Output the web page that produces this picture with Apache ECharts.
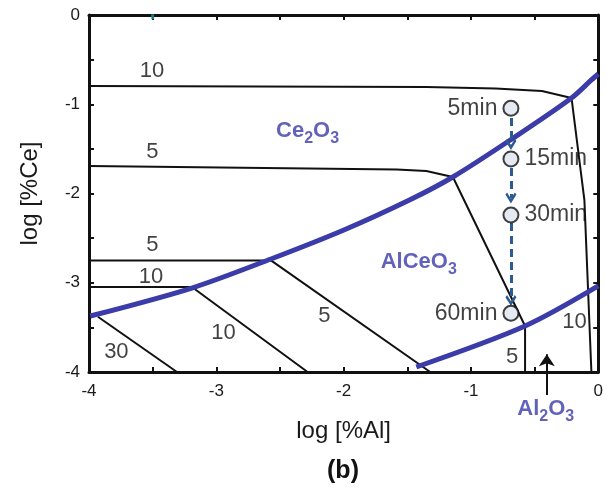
<!DOCTYPE html>
<html><head><meta charset="utf-8">
<script src="https://cdn.jsdelivr.net/npm/echarts@6/dist/echarts.min.js"></script>
<style>html,body{margin:0;padding:0;background:#fff}#c{width:606px;height:489px}</style>
</head><body><div id="c"></div>
<script>
// Phase boundaries (log[%Al], log[%Ce])
const blueBoundaryUpper = [[-3.99,-3.373],[-3.192,-3.059],[-2.571,-2.734],[-1.998,-2.409],[-1.483,-2.073],[-1.142,-1.815],[-0.691,-1.401],[-0.210,-0.930],[-0.054,-0.728],[0,-0.661]];
const blueBoundaryLower = [[-1.429,-3.944],[-0.575,-3.485],[0,-3.036]];
// Iso-activity lines
const iso10Upper = [[-4,-0.796],[-1.351,-0.807],[-0.808,-0.824],[-0.443,-0.852],[-0.210,-0.930],[-0.109,-2.073],[-0.054,-4]];
const iso5Upper = [[-4,-1.692],[-1.584,-1.731],[-1.351,-1.748],[-1.142,-1.815],[-0.575,-3.485],[-0.575,-4]];
const iso5Lower = [[-4,-2.75],[-2.571,-2.75],[-1.320,-4]];
const iso10Lower = [[-4,-3.048],[-3.192,-3.048],[-2.283,-4]];
const iso30 = [[-3.930,-3.381],[-3.309,-4]];
// Iso labels
const isoLabels = [[-3.505,-0.624,'10'],[-3.503,-1.532,'5'],[-3.503,-2.577,'5'],[-3.513,-2.932,'10'],[-2.944,-3.563,'10'],[-3.785,-3.773,'30'],[-2.151,-3.373,'5'],[-0.186,-3.436,'10'],[-0.676,-3.829,'5']];
// Phase labels
const phaseLabels = [[-2.283,-1.322,'{a|Ce}{s|2}{a|O}{s|3}'],[-1.410,-2.790,'{a|AlCeO}{s|3}'],[-0.412,-4.437,'{a|Al}{s|2}{a|O}{s|3}']];
// Samples
const sampleX = -0.686;
const sampleTimes = ['5min','15min','30min','60min'];
const sampleY = [-1.045,-1.613,-2.241,-3.342];
const sampleLabelSide = ['left','right','right','left'];
const arrowSegments = [[-1.154,-1.45],[-1.714,-2.05],[-2.331,-3.2]];
const al2o3Arrow = [[-0.404,-4.258],[-0.404,-3.80]];
const xTicks = [-4,-3,-2,-1,0];

const FONT = 'Liberation Sans, Arial, Helvetica, sans-serif';
const BLUE = '#3b3ba9';
const chevron = 'path://M6,0 L12,7 L10.2,8.6 L6,3.7 L1.8,8.6 L0,7 Z';

function blackLine(d){return {type:'line',data:d,showSymbol:false,symbol:'none',lineStyle:{color:'#111',width:2},z:2,silent:true};}

const chart = echarts.init(document.getElementById('c'));
const axisCommon = {min:-4,max:0,interval:0.5,
  axisLine:{show:true,onZero:false,lineStyle:{color:'#111',width:3}},
  axisTick:{show:true,inside:true,length:5,lineStyle:{color:'#111',width:2}},
  splitLine:{show:false}};
chart.setOption({
  animation:false,
  grid:{left:89,top:15,right:2,bottom:117,containLabel:false},
  xAxis:[
    Object.assign({type:'value',position:'bottom',name:'log [%Al]',nameLocation:'middle',nameGap:47,
      nameTextStyle:{fontFamily:FONT,fontSize:24,color:'#1a1a1a'},
      axisLabel:{fontFamily:FONT,fontSize:17,color:'#1a1a1a',margin:11,
        formatter:v=>xTicks.indexOf(v)>=0?String(v):''}},axisCommon),
    Object.assign({type:'value',position:'top',axisLabel:{show:false}},axisCommon)
  ],
  yAxis:[
    Object.assign({type:'value',position:'left',name:'log [%Ce]',nameLocation:'middle',nameGap:47,
      nameTextStyle:{fontFamily:FONT,fontSize:24,color:'#1a1a1a'},
      axisLabel:{fontFamily:FONT,fontSize:17,color:'#1a1a1a',margin:9,
        formatter:v=>Number.isInteger(v)?String(v):''}},axisCommon),
    Object.assign({type:'value',position:'right',axisLabel:{show:false}},axisCommon)
  ],
  series:[
    blackLine(iso10Upper),blackLine(iso5Upper),blackLine(iso5Lower),blackLine(iso10Lower),blackLine(iso30),
    {type:'line',data:blueBoundaryUpper,showSymbol:false,symbol:'none',smooth:0.3,lineStyle:{color:BLUE,width:5},z:3,silent:true},
    {type:'line',data:blueBoundaryLower,showSymbol:false,symbol:'none',smooth:0.3,lineStyle:{color:BLUE,width:5},z:3,silent:true},
    {type:'scatter',data:isoLabels.map(d=>[d[0],d[1],d[2]]),symbolSize:0,z:4,silent:true,
      label:{show:true,position:'inside',formatter:p=>p.data[2],fontFamily:FONT,fontSize:22,color:'#111'}},
    {type:'scatter',data:phaseLabels.map(d=>[d[0],d[1],d[2]]),symbolSize:0,z:4,silent:true,clip:false,
      label:{show:true,position:'inside',formatter:p=>p.data[2],
        rich:{a:{fontFamily:FONT,fontSize:22,fontWeight:'bold',color:BLUE,lineHeight:24,verticalAlign:'top'},
              s:{fontFamily:FONT,fontSize:16,fontWeight:'bold',color:BLUE,lineHeight:27,verticalAlign:'bottom'}}}},
    {type:'lines',coordinateSystem:'cartesian2d',z:4,silent:true,
      data:arrowSegments.map(s=>({coords:[[sampleX,s[0]],[sampleX,s[1]]]})),
      symbol:['none',chevron],symbolSize:[15,11],
      lineStyle:{color:'#2e5a92',width:3,type:[8,5],opacity:1}},
    {type:'lines',coordinateSystem:'cartesian2d',z:4,silent:true,clip:false,
      data:[{coords:al2o3Arrow}],symbol:['none','arrow'],symbolSize:[9,12],
      lineStyle:{color:'#111',width:2,opacity:1}},
    {type:'scatter',data:sampleY.map((y,i)=>({value:[sampleX,y],label:{position:sampleLabelSide[i]},name:sampleTimes[i]})),
      symbolSize:15,z:5,silent:true,
      itemStyle:{color:'#dde3ef',borderColor:'#111',borderWidth:2},
      label:{show:true,formatter:p=>p.name,fontFamily:FONT,fontSize:23,color:'#111',distance:5}},
    {type:'scatter',data:[[-3.5,-0.02]],symbol:'rect',symbolSize:[3,5],z:6,silent:true,itemStyle:{color:'#1a9a9a'}}
  ],
  graphic:[{type:'text',x:343,y:471,style:{text:'(b)',font:'bold 25px '+FONT,fill:'#111',align:'center',verticalAlign:'middle'}}]
});
</script></body></html>
